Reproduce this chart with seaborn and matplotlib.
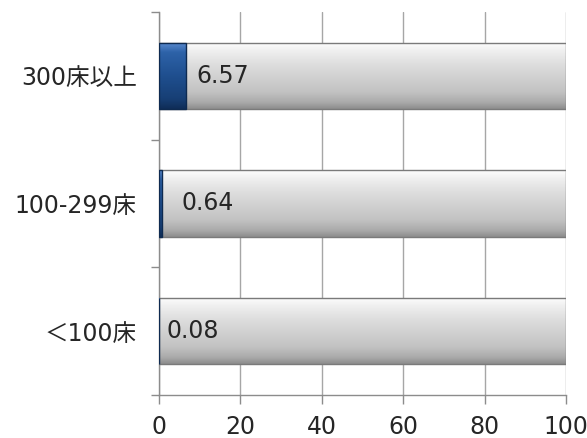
import numpy as np
import pandas as pd
import matplotlib
matplotlib.use("Agg")
import matplotlib.pyplot as plt
import seaborn as sns
from matplotlib.colors import LinearSegmentedColormap

categories = ["300床以上", "100-299床", "＜100床"]
values = [6.57, 0.64, 0.08]
totals = [100, 100, 100]
value_labels = ["6.57", "0.64", "0.08"]
label_x = [9.1, 5.5, 1.9]
xticks = [0, 20, 40, 60, 80, 100]

sns.set_style("white")
plt.rcParams['font.family'] = ['DejaVu Sans', 'Noto Sans CJK JP']

df = pd.DataFrame({"cat": categories, "val": values, "tot": totals})

fig = plt.figure(figsize=(5.87, 4.38), dpi=100)
ax = fig.add_axes([0.2709, 0.0982, 0.9642 - 0.2709, 0.9726 - 0.0982])

gray_c = "#c8c8c8"
blue_c = "#1f4f8f"
sns.barplot(data=df, x="tot", y="cat", orient="h", color=gray_c, width=0.52,
            ax=ax, edgecolor="#7a7a7a", linewidth=1.0, zorder=3)
sns.barplot(data=df, x="val", y="cat", orient="h", color=blue_c, width=0.52,
            ax=ax, edgecolor="#0e2a50", linewidth=1.0, zorder=4)

gray_cmap = LinearSegmentedColormap.from_list(
    "g", [(0, "#fdfdfd"), (0.12, "#f0f0f0"), (0.35, "#dcdcdc"),
          (0.75, "#c2c2c2"), (0.9, "#ababab"), (1.0, "#8e8e8e")])
blue_cmap = LinearSegmentedColormap.from_list(
    "b", [(0, "#5b8bd0"), (0.15, "#2d62a8"), (0.5, "#1f4f8f"),
          (0.85, "#173f75"), (1.0, "#0f2d58")])

grad = np.linspace(0, 1, 100).reshape(-1, 1)
n = len(categories)
patches = list(ax.patches)
for i, p in enumerate(patches):
    cmap = gray_cmap if i < n else blue_cmap
    x0, y0, w, h = p.get_x(), p.get_y(), p.get_width(), p.get_height()
    im = ax.imshow(grad, cmap=cmap, aspect="auto", origin="upper",
                   extent=(x0, x0 + w, y0 + h, y0), zorder=p.get_zorder() + 0.1,
                   interpolation="bilinear")
    im.set_clip_path(p)
    p.set_facecolor("none")
    p.set_zorder(p.get_zorder() + 0.2)

ax.set_xlim(0, 100)
ax.set_ylim(2.5, -0.5)

for i, (lx, lab) in enumerate(zip(label_x, value_labels)):
    ax.text(lx, i, lab, ha="left", va="center", fontsize=17, color="#262626", zorder=10)

ax.set_xticks(xticks)
ax.set_xticklabels([str(t) for t in xticks])
ax.set_yticks(range(n))
ax.set_yticklabels(categories)
ax.set_yticks([-0.5, 0.5, 1.5, 2.5], minor=True)
ax.set_xlabel("")
ax.set_ylabel("")

ax.xaxis.grid(True, color="#a6a6a6", linewidth=1.0, zorder=0)
ax.yaxis.grid(False)
ax.set_axisbelow(True)

for s in ["top", "right"]:
    ax.spines[s].set_visible(False)
for s in ["left", "bottom"]:
    ax.spines[s].set_color("#8c8c8c")
    ax.spines[s].set_linewidth(1.0)

ax.tick_params(axis="x", which="major", bottom=True, direction="out", length=6.5, width=1.0,
               color="#8c8c8c", labelsize=17, labelcolor="#262626", pad=8)
ax.tick_params(axis="y", which="major", left=True, length=0, labelsize=17,
               labelcolor="#262626", pad=16)
ax.tick_params(axis="y", which="minor", left=True, direction="out", length=6, width=1.0,
               color="#8c8c8c")
ax.tick_params(axis="x", which="minor", length=0)

fig.savefig("out.png", dpi=100)
